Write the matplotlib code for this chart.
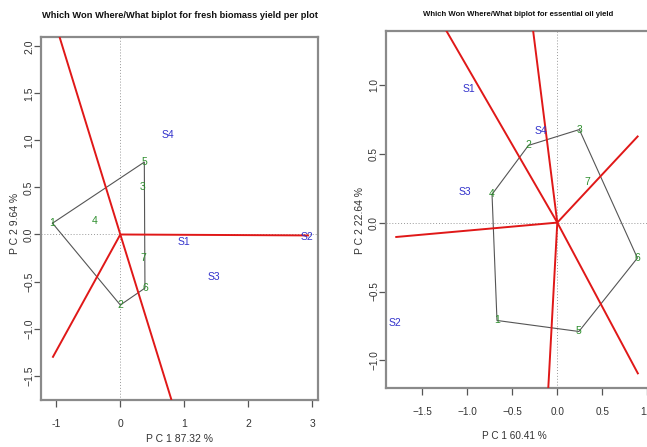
import matplotlib
matplotlib.use("Agg")
import matplotlib.pyplot as plt
from matplotlib import font_manager

names = {f.name for f in font_manager.fontManager.ttflist}
FAM = ["Liberation Sans Narrow", "Liberation Sans", "DejaVu Sans"] if "Liberation Sans Narrow" in names else ["Liberation Sans", "DejaVu Sans"]
plt.rcParams["font.family"] = FAM

# ---------------- Panel 1: fresh biomass yield per plot ----------------
title1 = "Which Won Where/What biplot for fresh biomass yield per plot"
xlab1 = "P C 1 87.32 %"
ylab1 = "P C 2 9.64 %"
gen1 = ["1", "2", "3", "4", "5", "6", "7"]
gen1_x = [-1.06, 0.00, 0.35, -0.40, 0.375, 0.385, 0.365]
gen1_y = [0.12, -0.75, 0.51, 0.14, 0.77, -0.57, -0.25]
env1 = ["S1", "S2", "S3", "S4"]
env1_x = [1.00, 2.92, 1.47, 0.75]
env1_y = [-0.085, -0.03, -0.45, 1.06]
hull1 = ["1", "5", "6", "2"]
ray1_x = [-0.95, 2.95, -1.06, 0.80]
ray1_y = [2.10, -0.01, -1.31, -1.76]
xt1 = [-1, 0, 1, 2, 3]
xtl1 = ["-1", "0", "1", "2", "3"]
yt1 = [-1.5, -1.0, -0.5, 0.0, 0.5, 1.0, 1.5, 2.0]
ytl1 = ["\u22121.5", "\u22121.0", "\u22120.5", "0.0", "0.5", "1.0", "1.5", "2.0"]
xlim1 = (-1.24, 3.09)
ylim1 = (-1.76, 2.10)

# ---------------- Panel 2: essential oil yield ----------------
title2 = "Which Won Where/What biplot for essential oil yield"
xlab2 = "P C 1 60.41 %"
ylab2 = "P C 2 22.64 %"
gen2 = ["1", "2", "3", "4", "5", "6", "7"]
gen2_x = [-0.67, -0.32, 0.245, -0.725, 0.24, 0.89, 0.33]
gen2_y = [-0.71, 0.56, 0.675, 0.205, -0.79, -0.257, 0.295]
env2 = ["S1", "S2", "S3", "S4"]
env2_x = [-0.98, -1.80, -1.03, -0.18]
env2_y = [0.97, -0.73, 0.22, 0.665]
hull2 = ["4", "2", "3", "6", "5", "1"]
ray2_x = [-1.24, 0.90, -0.27, -0.10, 0.90, -1.80]
ray2_y = [1.40, -1.10, 1.40, -1.20, 0.63, -0.105]
xt2 = [-1.5, -1.0, -0.5, 0.0, 0.5, 1.0]
xtl2 = ["\u22121.5", "\u22121.0", "\u22120.5", "0.0", "0.5", "1.0"]
yt2 = [-1.0, -0.5, 0.0, 0.5, 1.0]
ytl2 = ["\u22121.0", "\u22120.5", "0.0", "0.5", "1.0"]
xlim2 = (-1.903, 1.03)
ylim2 = (-1.20, 1.39)

GREEN = "#2f8f2f"
BLUE = "#3333cc"
RED = "#e01818"
SPINE = "#8a8a8a"
TXT = "#333333"

W, H = 647, 447
fig = plt.figure(figsize=(W / 100, H / 100), dpi=100)


def px_axes(x0, y0, x1, y1):
    return fig.add_axes([x0 / W, 1 - y1 / H, (x1 - x0) / W, (y1 - y0) / H])


def draw(ax, gen, gx, gy, env, ex, ey, hull, rx, ry, xt, xtl, yt, ytl, xlim, ylim, tsize):
    ax.set_xlim(*xlim)
    ax.set_ylim(*ylim)
    ax.axhline(0, color="#999999", lw=0.7, ls=(0, (1, 2)), zorder=1)
    ax.axvline(0, color="#999999", lw=0.7, ls=(0, (1, 2)), zorder=1)
    idx = [gen.index(h) for h in hull] + [gen.index(hull[0])]
    ax.plot([gx[i] for i in idx], [gy[i] for i in idx], color="#555555", lw=0.8, zorder=2)
    for x, y in zip(rx, ry):
        ax.plot([0, x], [0, y], color=RED, lw=1.4, zorder=3, solid_capstyle="butt")
    for t, x, y in zip(gen, gx, gy):
        ax.text(x, y, t, color=GREEN, fontsize=7.5, ha="center", va="center", zorder=4)
    for t, x, y in zip(env, ex, ey):
        ax.text(x, y, t, color=BLUE, fontsize=7.5, ha="center", va="center", zorder=4)
    ax.set_xticks(xt)
    ax.set_xticklabels(xtl)
    ax.set_yticks(yt)
    ax.set_yticklabels(ytl, rotation=90, va="center")
    ax.tick_params(axis="both", direction="out", length=5, width=0.9, color="#555555",
                   labelsize=tsize, labelcolor=TXT)
    ax.tick_params(axis="x", pad=9)
    ax.tick_params(axis="y", pad=0)
    for s in ax.spines.values():
        s.set_color(SPINE)
        s.set_linewidth(1.6)


ax1 = px_axes(41, 37, 318, 400)
draw(ax1, gen1, gen1_x, gen1_y, env1, env1_x, env1_y, hull1, ray1_x, ray1_y,
     xt1, xtl1, yt1, ytl1, xlim1, ylim1, 7.5)
ax2 = px_axes(386, 31, 650, 388)
draw(ax2, gen2, gen2_x, gen2_y, env2, env2_x, env2_y, hull2, ray2_x, ray2_y,
     xt2, xtl2, yt2, ytl2, xlim2, ylim2, 7.2)

# titles
fig.text(180 / W, 1 - 15 / H, title1, ha="center", va="center", fontsize=6.7,
         fontweight="bold", color="#111111")
fig.text(518 / W, 1 - 15 / H, title2, ha="center", va="center", fontsize=5.6,
         fontweight="bold", color="#111111")
# axis labels
fig.text(180 / W, 1 - 439 / H, xlab1, ha="center", va="center", fontsize=7.5, color=TXT)
fig.text(514 / W, 1 - 436 / H, xlab2, ha="center", va="center", fontsize=7.2, color=TXT)
fig.text(15 / W, 1 - 223 / H, ylab1, ha="center", va="center", rotation=90, fontsize=7.5, color=TXT)
fig.text(360 / W, 1 - 220 / H, ylab2, ha="center", va="center", rotation=90, fontsize=7.5, color=TXT)

fig.savefig("out.png", dpi=100)
